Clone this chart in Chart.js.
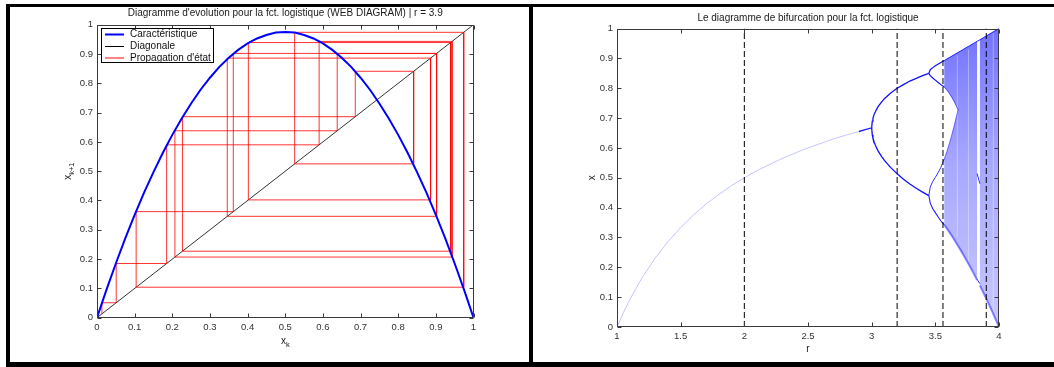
<!DOCTYPE html>
<html><head><meta charset="utf-8">
<script src="https://cdn.jsdelivr.net/npm/chart.js@4.4.1/dist/chart.umd.min.js"></script>
<style>
html,body{margin:0;padding:0;background:#fff;}
body{width:1054px;height:367px;position:relative;overflow:hidden;}
.bar{position:absolute;background:#000;}
canvas{position:absolute;}
</style></head><body>
<div class="bar" style="left:6px;top:4px;width:1048px;height:3px"></div>
<div class="bar" style="left:6px;top:4px;width:4px;height:363px"></div>
<div class="bar" style="left:529px;top:4px;width:4px;height:363px"></div>
<div class="bar" style="left:6px;top:362px;width:1048px;height:5px"></div>
<canvas id="cl" width="519" height="355" style="left:10px;top:7px"></canvas>
<canvas id="cr" width="521" height="355" style="left:533px;top:7px"></canvas>
<script>
// ================= LEFT: web diagram, r = 3.9 =================
const webTitle = "Diagramme d'evolution pour la fct. logistique (WEB DIAGRAM) | r = 3.9";
const legendLabels = ["Caractéristique", "Diagonale", "Propagation d'état"];
const curveX = [0,0.025,0.05,0.075,0.1,0.125,0.15,0.175,0.2,0.225,0.25,0.275,0.3,0.325,0.35,0.375,0.4,0.425,0.45,0.475,0.5,
                0.525,0.55,0.575,0.6,0.625,0.65,0.675,0.7,0.725,0.75,0.775,0.8,0.825,0.85,0.875,0.9,0.925,0.95,0.975,1];
const curveY = [0,0.095,0.185,0.271,0.351,0.427,0.497,0.563,0.624,0.680,0.731,0.778,0.819,0.856,0.887,0.914,0.936,0.953,0.965,0.973,0.975,
                0.973,0.965,0.953,0.936,0.914,0.887,0.856,0.819,0.778,0.731,0.680,0.624,0.563,0.497,0.427,0.351,0.271,0.185,0.095,0];
const diagX = [0, 1];
const diagY = [0, 1];
const stateSeq = [0.013,0.051,0.185,0.590,0.943,0.207,0.638,0.902,0.346,0.886,0.402,0.939,0.227,0.686,0.841,0.525,0.974,0.104,0.362,0.902];
const webTicks = [0,0.1,0.2,0.3,0.4,0.5,0.6,0.7,0.8,0.9,1];
const webTickLabels = ['0','0.1','0.2','0.3','0.4','0.5','0.6','0.7','0.8','0.9','1'];

// ================= RIGHT: bifurcation diagram =================
const bifTitle = "Le diagramme de bifurcation pour la fct. logistique";
const fixR  = [1.0,1.05,1.1,1.15,1.2,1.3,1.4,1.5,1.6,1.7,1.8,1.9,2.0,2.1,2.2,2.3,2.4,2.5,2.6,2.7,2.8,2.9];
const fixX  = [0,0.048,0.091,0.130,0.167,0.231,0.286,0.333,0.375,0.412,0.444,0.474,0.500,0.524,0.545,0.565,0.583,0.600,0.615,0.630,0.643,0.655];
const fixDarkR = [2.9, 2.95, 3.0];
const fixDarkX = [0.655, 0.661, 0.667];
const p2R  = [3.0,3.005,3.01,3.02,3.03,3.05,3.08,3.1,3.15,3.2,3.25,3.3,3.35,3.4,3.449];
const p2Up = [0.667,0.690,0.699,0.713,0.722,0.738,0.755,0.765,0.784,0.800,0.812,0.824,0.833,0.842,0.850];
const p2Lo = [0.667,0.643,0.633,0.619,0.608,0.590,0.570,0.558,0.534,0.513,0.495,0.479,0.465,0.452,0.440];
const p4R  = [3.449,3.46,3.48,3.5,3.52,3.544,3.57];
const p4A  = [0.850,0.862,0.869,0.875,0.880,0.886,0.8925];
const p4B  = [0.850,0.842,0.834,0.827,0.820,0.812,0.804];
const p4C  = [0.440,0.469,0.488,0.501,0.516,0.535,0.563];
const p4D  = [0.440,0.415,0.396,0.383,0.370,0.355,0.3425];
// chaotic region, two-band part (r 3.57 .. 3.679)
const twoR         = [3.57,3.59,3.61,3.63,3.65,3.679];
const twoTop       = [0.8925,0.8975,0.9025,0.9075,0.9125,0.9198];
const twoUpperLow  = [0.804,0.794,0.7825,0.769,0.7537,0.7275];
const twoLowerHigh = [0.5626,0.587,0.6144,0.6448,0.6776,0.7293];
const twoBottom    = [0.3425,0.3303,0.3177,0.3047,0.2914,0.2714];
// single band up to the period-3 window
const bandAR   = [3.70,3.72,3.74,3.76,3.78,3.80,3.82,3.828];
const bandATop = [0.925,0.93,0.935,0.94,0.945,0.95,0.955,0.957];
const bandABot = [0.2567,0.2422,0.2273,0.2121,0.1965,0.1805,0.1642,0.1575];
// band after the window
const bandBR   = [3.850,3.88,3.90,3.92,3.94,3.96,3.98,4.0];
const bandBTop = [0.962,0.97,0.975,0.98,0.985,0.99,0.995,1.0];
const bandBBot = [0.1390,0.1129,0.0951,0.0768,0.0582,0.0392,0.0198,0];
const winR = [3.828, 3.850];
const winA = [0.957, 0.962];
const winB = [0.514, 0.480];
const winC = [0.160, 0.145];
const streakR  = [3.673, 3.76, 3.955];
const streakLo = [0.30, 0.22, 0.05];
const streakHi = [0.91, 0.93, 0.985];
const edgeR = [4, 4];
const edgeX = [0, 1];
const markerR = [2, 3.2, 3.56, 3.9];
const bifTicksX = [1,1.5,2,2.5,3,3.5,4];
const bifTickLabelsX = ['1','1.5','2','2.5','3','3.5','4'];
const bifTicksY = [0,0.1,0.2,0.3,0.4,0.5,0.6,0.7,0.8,0.9,1];
const bifTickLabelsY = ['0','0.1','0.2','0.3','0.4','0.5','0.6','0.7','0.8','0.9','1'];

// ================= helpers =================
const FONT = "'Liberation Sans', Arial, Helvetica, sans-serif";
Chart.defaults.font.family = FONT;
const xy = (xs, ys) => xs.map((x, i) => ({x: x, y: ys[i]}));
const rev = a => a.slice().reverse();

function drawSub(ctx, main, sub, cx, cy, size) {
  ctx.font = size + 'px ' + FONT;
  const w1 = ctx.measureText(main).width;
  ctx.font = (size * 0.75) + 'px ' + FONT;
  const w2 = sub ? ctx.measureText(sub).width : 0;
  const x0 = cx - (w1 + w2) / 2;
  ctx.textAlign = 'left';
  ctx.textBaseline = 'alphabetic';
  ctx.font = size + 'px ' + FONT;
  ctx.fillText(main, x0, cy + size * 0.35);
  if (sub) {
    ctx.font = (size * 0.75) + 'px ' + FONT;
    ctx.fillText(sub, x0 + w1, cy + size * 0.35 + size * 0.3);
  }
}

const matlabPlugin = {
  id: 'matlab',
  beforeDatasetsDraw(chart) {
    // seamless fill of the chaotic "cloud" polygons, from the points placed by the chart's scales
    const {ctx, chartArea: a} = chart;
    chart.data.datasets.forEach((ds, i) => {
      if (!ds.cloud) return;
      const pts = chart.getDatasetMeta(i).data;
      if (!pts.length) return;
      ctx.save();
      ctx.beginPath();
      ctx.rect(a.left, a.top, a.right - a.left, a.bottom - a.top);
      ctx.clip();
      const g = ctx.createLinearGradient(0, a.top, 0, a.bottom);
      g.addColorStop(0, 'rgba(25,25,255,0.62)');
      g.addColorStop(0.45, 'rgba(45,45,255,0.42)');
      g.addColorStop(1, 'rgba(70,70,255,0.30)');
      ctx.fillStyle = g;
      ctx.beginPath();
      pts.forEach((p, k) => k ? ctx.lineTo(p.x, p.y) : ctx.moveTo(p.x, p.y));
      ctx.closePath();
      ctx.fill();
      ctx.restore();
    });
  },
  afterDatasetsDraw(chart, args, o) {
    const {ctx, chartArea: a} = chart;
    const x = chart.scales.x, y = chart.scales.y;
    ctx.save();
    ctx.strokeStyle = '#3a3a3a';
    ctx.lineWidth = 1;
    const L = Math.round(a.left) + 0.5, R = Math.round(a.right) - 0.5;
    const T = Math.round(a.top) + 0.5, B = Math.round(a.bottom) - 0.5;
    ctx.beginPath();
    ctx.rect(L, T, R - L, B - T);
    const tk = 4;
    x.ticks.forEach(t => {
      const px = Math.round(x.getPixelForValue(t.value)) + 0.5;
      ctx.moveTo(px, B); ctx.lineTo(px, B - tk);
      ctx.moveTo(px, T); ctx.lineTo(px, T + tk);
    });
    y.ticks.forEach(t => {
      const py = Math.round(y.getPixelForValue(t.value)) + 0.5;
      ctx.moveTo(L, py); ctx.lineTo(L + tk, py);
      ctx.moveTo(R, py); ctx.lineTo(R - tk, py);
    });
    ctx.stroke();
    ctx.fillStyle = '#1a1a1a';
    ctx.font = o.titleSize + 'px ' + FONT;
    ctx.textAlign = 'center';
    ctx.textBaseline = 'middle';
    ctx.fillText(o.title, (a.left + a.right) / 2, o.titleY);
    drawSub(ctx, o.xMain, o.xSub, (a.left + a.right) / 2, o.xLabelY, 10);
    ctx.save();
    ctx.translate(o.yLabelX, (a.top + a.bottom) / 2);
    ctx.rotate(-Math.PI / 2);
    drawSub(ctx, o.yMain, o.ySub, 0, 0, 10);
    ctx.restore();
    if (o.legend) {
      const g = o.legend;
      ctx.fillStyle = '#fff';
      ctx.fillRect(g.x, g.y, g.w, g.h);
      ctx.strokeStyle = '#000';
      ctx.lineWidth = 1;
      ctx.strokeRect(g.x + 0.5, g.y + 0.5, g.w, g.h);
      chart.data.datasets.forEach((ds, i) => {
        const ly = g.rows[i];
        ctx.strokeStyle = g.colors[i];
        ctx.lineWidth = g.widths[i];
        ctx.beginPath();
        ctx.moveTo(g.x + 4, ly); ctx.lineTo(g.x + 23, ly);
        ctx.stroke();
        ctx.fillStyle = '#111';
        ctx.font = '10px ' + FONT;
        ctx.textAlign = 'left';
        ctx.textBaseline = 'middle';
        ctx.fillText(ds.label, g.x + 29, ly);
      });
    }
    ctx.restore();
  }
};

function axis(ticks, labels, min, max, isX, size) {
  return {
    type: 'linear', min: min, max: max,
    afterBuildTicks: s => { s.ticks = ticks.map(v => ({value: v})); },
    ticks: {callback: (v, i) => labels[i], font: {size: 9.5}, color: '#333', padding: 4,
            maxRotation: 0, autoSkip: false},
    grid: {display: false, drawTicks: false},
    border: {display: false},
    afterFit: s => { if (isX) s.height = size; else s.width = size; }
  };
}

// ---- cobweb path from the state sequence
const webPath = [{x: stateSeq[0], y: stateSeq[0]}];
for (let k = 0; k < stateSeq.length - 1; k++) {
  webPath.push({x: stateSeq[k], y: stateSeq[k + 1]});
  webPath.push({x: stateSeq[k + 1], y: stateSeq[k + 1]});
}

new Chart(document.getElementById('cl'), {
  type: 'line',
  data: {
    datasets: [
      {label: legendLabels[0], data: xy(curveX, curveY), borderColor: '#0000ff', borderWidth: 2, pointRadius: 0, order: 0},
      {label: legendLabels[1], data: xy(diagX, diagY), borderColor: '#333333', borderWidth: 1, pointRadius: 0, order: 2},
      {label: legendLabels[2], data: webPath, borderColor: 'rgba(255,0,0,0.8)', borderWidth: 1, pointRadius: 0, order: 1}
    ]
  },
  options: {
    responsive: false, animation: false,
    layout: {padding: {left: 47, right: 55.5, top: 17.7, bottom: 14.3}},
    plugins: {
      legend: {display: false}, tooltip: {enabled: false},
      matlab: {
        title: webTitle, titleSize: 10, titleY: 6.5,
        xMain: 'x', xSub: 'k', xLabelY: 333,
        yMain: 'x', ySub: 'k+1', yLabelX: 57,
        legend: {x: 91, y: 21, w: 112, h: 34, rows: [27.5, 39.5, 51],
                 colors: ['#0000ff', '#000000', 'rgba(255,80,80,0.7)'], widths: [2, 1, 2]}
      }
    },
    scales: {
      x: axis(webTicks, webTickLabels, 0, 1, true, 30),
      y: axis(webTicks, webTickLabels, 0, 1, false, 40)
    }
  },
  plugins: [matlabPlugin]
});

// ---- bifurcation
const EDGE = 'rgba(0,0,255,0.85)';
const line = (pts, color, w, order, extra) => Object.assign(
  {data: pts, borderColor: color, borderWidth: w, pointRadius: 0, order: order, fill: false}, extra || {});

// cloud polygon A: top edge forward, bottom edge back, then the notch between the two bands
const polyA = [].concat(
  xy(twoR, twoTop), xy(bandAR, bandATop),
  rev(xy(bandAR, bandABot)), rev(xy(twoR, twoBottom)),
  xy(twoR, twoLowerHigh), rev(xy(twoR, twoUpperLow))
);
const polyB = [].concat(xy(bandBR, bandBTop), rev(xy(bandBR, bandBBot)));

const bifSets = [
  line(polyA, 'rgba(0,0,0,0)', 0, 5, {cloud: true, showLine: false}),
  line(polyB, 'rgba(0,0,0,0)', 0, 5, {cloud: true, showLine: false}),
  line([].concat(xy(twoR, twoTop), xy(bandAR, bandATop)), EDGE, 1, 2),
  line([].concat(xy(twoR, twoBottom), xy(bandAR, bandABot)), 'rgba(0,0,255,0.45)', 2, 2),
  line(xy(twoR, twoLowerHigh), 'rgba(0,0,255,0.5)', 1, 2),
  line(xy(twoR, twoUpperLow), 'rgba(0,0,255,0.6)', 1, 2),
  line(xy(bandBR, bandBTop), EDGE, 1, 2),
  line(xy(bandBR, bandBBot), 'rgba(0,0,255,0.45)', 2, 2),
  line(xy(fixR, fixX), 'rgba(110,110,255,0.4)', 1, 4),
  line(xy(fixDarkR, fixDarkX), '#2020ff', 1.4, 1),
  line(xy(p2R, p2Up), '#1010ff', 1.3, 1),
  line(xy(p2R, p2Lo), '#1010ff', 1.3, 1),
  line(xy(p4R, p4A), '#1010ff', 1.2, 1),
  line(xy(p4R, p4B), '#1010ff', 1.2, 1),
  line(xy(p4R, p4C), '#3030ff', 1, 1),
  line(xy(p4R, p4D), '#2020ff', 1.1, 1),
  line(xy(winR, winA), '#3030ff', 1, 1),
  line(xy(winR, winB), '#3030ff', 1, 1),
  line(xy(winR, winC), '#3030ff', 1, 1),
  line(xy(edgeR, edgeX), '#0000ff', 1.5, 1)
];
streakR.forEach((r, i) => bifSets.push(line(xy([r, r], [streakLo[i], streakHi[i]]), 'rgba(255,255,255,0.35)', 1, 3)));
markerR.forEach(r => bifSets.push(line(xy([r, r], [0, 1]), '#000000', 1, 0, {borderDash: [6, 3]})));

new Chart(document.getElementById('cr'), {
  type: 'line',
  data: {datasets: bifSets},
  options: {
    responsive: false, animation: false,
    layout: {padding: {left: 44, right: 55, top: 21.5, bottom: 5}},
    plugins: {
      legend: {display: false}, tooltip: {enabled: false},
      matlab: {
        title: bifTitle, titleSize: 10, titleY: 10.8,
        xMain: 'r', xSub: '', xLabelY: 341.5,
        yMain: 'x', ySub: '', yLabelX: 58
      }
    },
    scales: {
      x: axis(bifTicksX, bifTickLabelsX, 1, 4, true, 30),
      y: axis(bifTicksY, bifTickLabelsY, 0, 1, false, 40)
    }
  },
  plugins: [matlabPlugin]
});
</script>
</body></html>
